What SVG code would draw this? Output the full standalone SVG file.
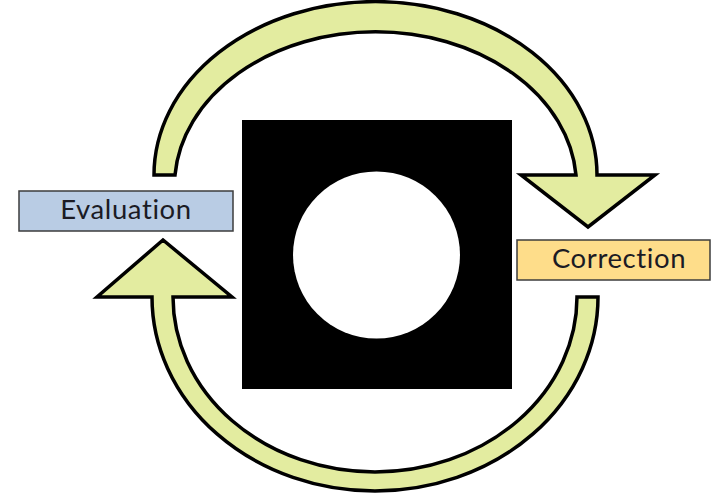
<svg xmlns="http://www.w3.org/2000/svg" width="712" height="494" viewBox="0 0 712 494">
  <style>
    .arrow { fill: #e3eca0; stroke: #000; stroke-width: 3.5; stroke-linejoin: miter; }
    .box { stroke: #3c3c3c; stroke-width: 1.5; }
    .label { font-family: Lato, "Open Sans", "Liberation Sans", sans-serif; font-size: 27.5px; letter-spacing: 0.6px; fill: #1b1b24; text-anchor: middle; }
  </style>
  <rect width="712" height="494" fill="#fff"/>
  <g id="connectors">
    <path class="arrow" d="M 154,175 A 221 173 0 0 1 597,175 L 655,175 L 588,227 L 521,175 L 576,175 A 201 154 0 0 0 175,175 Z"/>
    <path class="arrow" d="M 598,297 A 223 194 0 0 1 152,297 L 97,297 L 163,240 L 232,297 L 173,297 A 202 175 0 0 0 577,297 Z"/>
  </g>
  <g id="center">
    <rect x="242" y="120" width="270" height="269" fill="#000"/>
    <circle cx="376.5" cy="255" r="83.5" fill="#fff"/>
  </g>
  <g id="evaluation">
    <rect class="box" x="19" y="191" width="214" height="40" fill="#b9cce4"/>
    <text class="label" x="126" y="219">Evaluation</text>
  </g>
  <g id="correction">
    <rect class="box" x="517" y="240" width="193" height="40" fill="#fedd8a"/>
    <text class="label" x="619" y="268">Correction</text>
  </g>
</svg>
